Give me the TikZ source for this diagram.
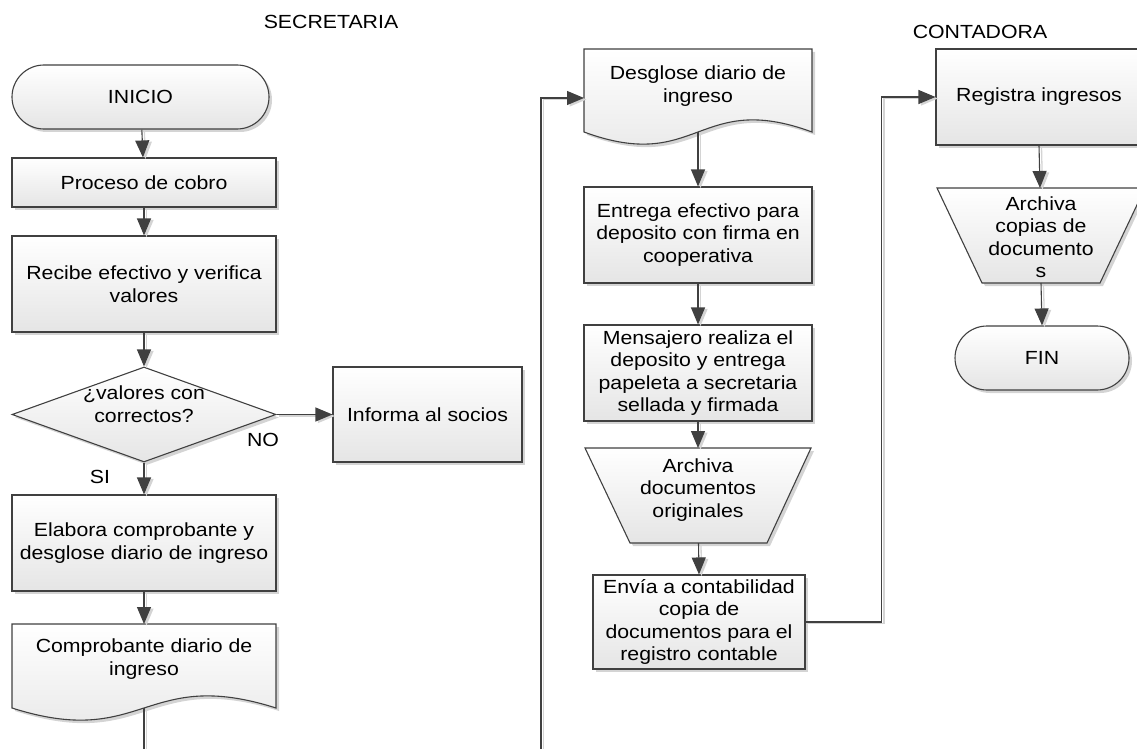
\documentclass[tikz,border=0pt]{standalone}
\usepackage{fontspec}
\setmainfont{Liberation Sans}[FakeStretch=1.12]
\usetikzlibrary{arrows.meta,shadows,shapes.geometric}
\definecolor{edge}{HTML}{404040}
\definecolor{shade}{HTML}{E5E5E5}
\definecolor{shadowc}{HTML}{D4D4D4}
\newcommand\bodyfont{\fontsize{19}{22.5}\selectfont}
\newcommand\headfont{\fontsize{19}{22}\selectfont}
\tikzset{
  fillstyle/.style={draw=edge, line width=1.1pt, top color=white, bottom color=shade,
    general shadow={fill=shadowc, shadow xshift=3pt, shadow yshift=-3pt}},
  box/.style={fillstyle, rectangle, inner sep=0pt, align=center, font=\bodyfont},
  term/.style={box, rounded corners=32pt},
  decision/.style={fillstyle, diamond, inner sep=0pt, shape aspect=2.78},
  label/.style={inner sep=0pt, align=center, font=\bodyfont},
  head/.style={inner sep=0pt, font=\headfont},
  conn/.style={draw=edge, line width=1.1pt, -{Triangle[length=17pt,width=14pt]},
    preaction={draw=shadowc, line width=1.3pt, -{Triangle[length=17pt,width=14pt]},
      transform canvas={xshift=2.5pt,yshift=-1.5pt}}},
  line/.style={draw=edge, line width=1.1pt,
    preaction={draw=shadowc, line width=1.3pt, transform canvas={xshift=2.5pt,yshift=-1.5pt}}},
}
\begin{document}
\begin{tikzpicture}[x=1pt,y=-1pt]
\useasboundingbox (0,0) rectangle (1137,749);

% column headings
\node[head] (hsec) at (331,22) {SECRETARIA};
\node[head] (hcon) at (980,32) {CONTADORA};

% ---- secretary column ----
\node[term, minimum width=257pt, minimum height=64pt] (ini) at (140.5,97) {INICIO};
\node[box, minimum width=264pt, minimum height=49pt] (proc) at (144,182.5) {Proceso de cobro};
\node[box, minimum width=264pt, minimum height=96pt] (rec) at (144,284) {Recibe efectivo y verifica\\valores};
\node[decision, minimum width=264pt, minimum height=95pt] (dec) at (144,414.5) {};
\node[label] (dect) at (144,404) {¿valores con\\correctos?};
\node[box, minimum width=189pt, minimum height=95pt] (inf) at (427.5,414.5) {Informa al socios};
\node[box, minimum width=264pt, minimum height=96pt] (ela) at (144,543) {Elabora comprobante y\\desglose diario de ingreso};

% document: Comprobante diario de ingreso
\path[fillstyle] (12,624) -- (276,624) -- (276,708)
  .. controls (144,666) and (144,750) .. (12,708) -- cycle;
\coordinate (compT) at (144,624);
\coordinate (compB) at (144,708);
\node[label] (comp) at (144,659) {Comprobante diario de\\ingreso};

\node[label] (no) at (263,440) {NO};
\node[label] (si) at (100,477) {SI};

% ---- middle column ----
\path[fillstyle] (584,49) -- (812,49) -- (812,132)
  .. controls (698,90) and (698,174) .. (584,132) -- cycle;
\coordinate (desIn) at (584,98);
\coordinate (desB) at (698,132);
\node[label] (des) at (698,86) {Desglose diario de\\ingreso};

\node[box, minimum width=228pt, minimum height=96pt] (ent) at (698,235)
  {Entrega efectivo para\\deposito con firma en\\cooperativa};
\node[box, minimum width=228pt, minimum height=96pt] (men) at (698,373)
  {Mensajero realiza el\\deposito y entrega\\papeleta a secretaria\\sellada y firmada};

% manual operation: Archiva documentos originales
\path[fillstyle] (585,448) -- (811,448) -- (767,543) -- (630,543) -- cycle;
\coordinate (arT) at (698,448);
\coordinate (arB) at (698.5,543);
\node[label] (ar) at (698,490) {Archiva\\documentos\\originales};

\node[box, minimum width=212pt, minimum height=94pt] (env) at (699,622)
  {Envía a contabilidad\\copia de\\documentos para el\\registro contable};

% ---- accountant column ----
\node[box, minimum width=206pt, minimum height=96pt] (reg) at (1039,97) {Registra ingresos};

\path[fillstyle] (937,188) -- (1145,188) -- (1100,283) -- (982,283) -- cycle;
\coordinate (acT) at (1040,188);
\coordinate (acB) at (1041,283);
\node[label] (ac) at (1041,237) {Archiva\\copias de\\documento\\s};

\node[term, minimum width=174pt, minimum height=64pt] (fin) at (1042,358) {FIN};

% page-edge continuation points
\coordinate (cutL) at (144,749);
\coordinate (cutM) at (541,749);

% ---- connectors ----
\draw[conn] (ini) -- (proc);
\draw[conn] (proc) -- (rec);
\draw[conn] (rec) -- (dec.north);
\draw[conn] (dec.east) -- (inf.west);
\draw[conn] (dec.south) -- (ela.north);
\draw[conn] (ela.south) -- (compT);
\draw[line] (compB) -- (cutL);
\draw[conn] (cutM) |- (desIn);
\draw[conn] (desB) -- (ent.north);
\draw[conn] (ent) -- (men);
\draw[conn] (men.south) -- (arT);
\draw[conn] (arB) -- (env.north);
\draw[conn] (env.east) -- ++(76,0) |- (reg.west);
\draw[conn] (reg.south) -- (acT);
\draw[conn] (acB) -- (fin.north);
\end{tikzpicture}
\end{document}
